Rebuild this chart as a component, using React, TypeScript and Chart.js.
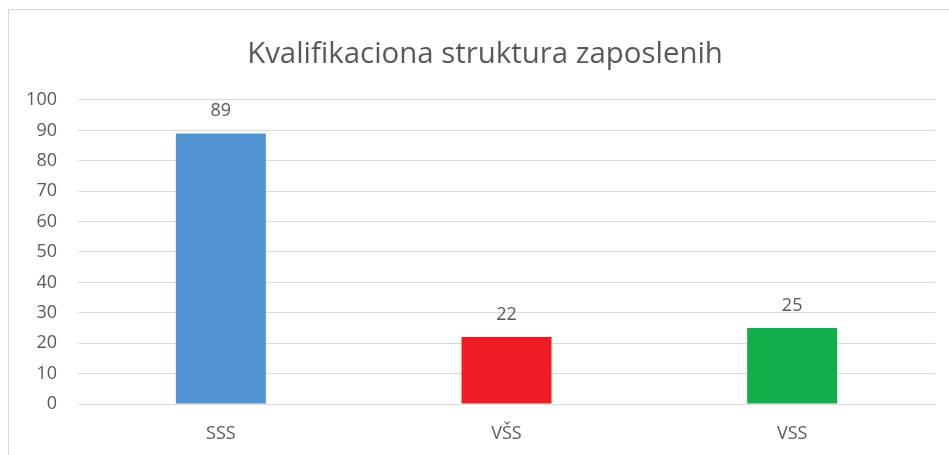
import React, { useEffect, useRef } from "react";
import { Chart, registerables } from "chart.js";

Chart.register(...registerables);

const categories = ["SSS", "VŠS", "VSS"];
const values = [89, 22, 25];
const barColors = ["#4F93D2", "#EE1C25", "#13AD4C"];
const chartTitle = "Kvalifikaciona struktura zaposlenih";
const yMin = 0;
const yMax = 100;
const yStep = 10;

const FONT = "'Open Sans', 'Noto Sans', sans-serif";
const TEXT = "#595959";

const valueLabels = {
  id: "valueLabels",
  afterDatasetsDraw(chart: any) {
    const ctx = chart.ctx;
    const meta = chart.getDatasetMeta(0);
    ctx.save();
    ctx.font = `18px ${FONT}`;
    ctx.fillStyle = TEXT;
    ctx.textAlign = "center";
    ctx.textBaseline = "alphabetic";
    meta.data.forEach((bar: any, i: number) => {
      const v = chart.data.datasets[0].data[i];
      ctx.fillText(String(v), bar.x, bar.y - 17);
    });
    ctx.restore();
  },
};

// Centre the title over the whole (wider) chart frame, not just the canvas box
const titleShift = {
  id: "titleShift",
  afterLayout(chart: any) {
    if (chart.titleBlock) {
      chart.titleBlock.left = 35;
    }
  },
};

export default function App() {
  const ref = useRef<HTMLCanvasElement | null>(null);
  useEffect(() => {
    document.body.style.margin = "0";
    const chart = new Chart(ref.current as HTMLCanvasElement, {
      type: "bar",
      data: {
        labels: categories,
        datasets: [
          {
            data: values,
            backgroundColor: barColors,
            borderWidth: 0,
            categoryPercentage: 1,
            barPercentage: 0.315,
          },
        ],
      },
      options: {
        animation: false,
        responsive: false,
        maintainAspectRatio: false,
        layout: { padding: { left: 0, right: 35, top: 0, bottom: 0 } },
        plugins: {
          legend: { display: false },
          tooltip: { enabled: false },
          title: {
            display: true,
            text: chartTitle,
            color: TEXT,
            font: { family: FONT, size: 29.4, weight: "normal", lineHeight: 1.2 },
            padding: { top: 37, bottom: 27.7 },
          },
        },
        scales: {
          x: {
            grid: { display: false, drawTicks: false },
            border: { display: false },
            ticks: { color: TEXT, font: { family: FONT, size: 18 }, padding: 19 },
            afterFit(scale: any) {
              scale.height = 51;
            },
          },
          y: {
            min: yMin,
            max: yMax,
            ticks: {
              stepSize: yStep,
              color: TEXT,
              font: { family: FONT, size: 18 },
              padding: 21,
            },
            grid: { color: "#D9D9D9", lineWidth: 1, drawTicks: false },
            border: { display: false },
            afterFit(scale: any) {
              scale.width = 78;
            },
          },
        },
      },
      plugins: [valueLabels, titleShift],
    });
    return () => chart.destroy();
  }, []);
  return (
    <div style={{ position: "relative", width: 949, height: 455, overflow: "hidden", background: "#fff" }}>
      <canvas ref={ref} width={970} height={455} style={{ display: "block" }} />
      <div
        style={{
          position: "absolute",
          left: 8,
          top: 9,
          width: 980,
          height: 470,
          border: "1.5px solid #D9D9D9",
          pointerEvents: "none",
        }}
      />
    </div>
  );
}
